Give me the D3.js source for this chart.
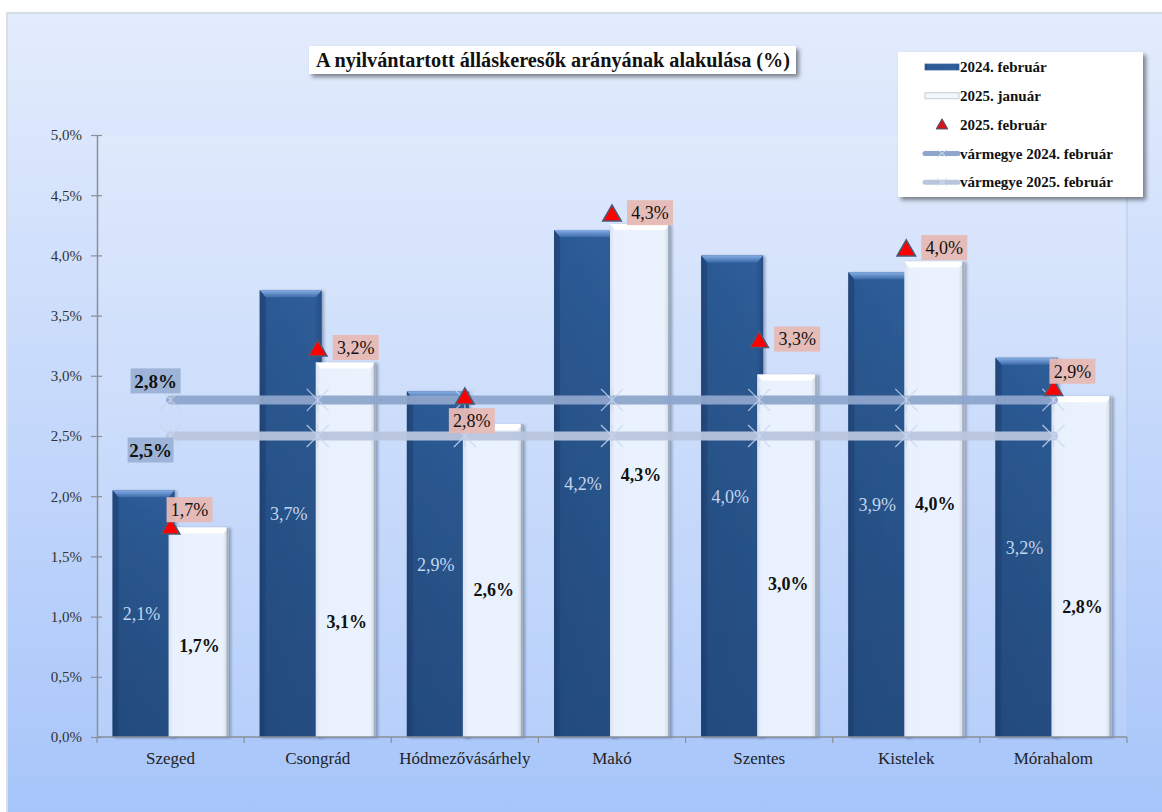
<!DOCTYPE html>
<html><head><meta charset="utf-8">
<script src="https://cdn.jsdelivr.net/npm/d3@7"></script>
<style>
html,body{margin:0;padding:0;background:#fff;}
svg{display:block;}
text{font-family:"Liberation Serif","DejaVu Serif",serif;}
</style></head>
<body>
<svg id="c" width="1162" height="812"></svg>
<script>
// ---- data ----
const categories = ["Szeged","Csongrád","Hódmezővásárhely","Makó","Szentes","Kistelek","Mórahalom"];
const feb2024 = [2.05, 3.71, 2.87, 4.21, 4.00, 3.86, 3.15];
const feb2024Labels = ["2,1%","3,7%","2,9%","4,2%","4,0%","3,9%","3,2%"];
const jan2025 = [1.74, 3.11, 2.60, 4.26, 3.01, 3.95, 2.83];
const jan2025Labels = ["1,7%","3,1%","2,6%","4,3%","3,0%","4,0%","2,8%"];
const feb2025 = [1.73, 3.21, 2.81, 4.33, 3.28, 4.04, 2.88];
const feb2025Labels = ["1,7%","3,2%","2,8%","4,3%","3,3%","4,0%","2,9%"];
const county2024 = 2.8, county2024Label = "2,8%";
const county2025 = 2.5, county2025Label = "2,5%";
const yTicks = [0,0.5,1,1.5,2,2.5,3,3.5,4,4.5,5];
const yTickLabels = ["0,0%","0,5%","1,0%","1,5%","2,0%","2,5%","3,0%","3,5%","4,0%","4,5%","5,0%"];
const title = "A nyilvántartott álláskeresők arányának alakulása (%)";
const legendLabels = ["2024. február","2025. január","2025. február","vármegye 2024. február","vármegye 2025. február"];

// ---- layout (not data) ----
const janLabelAt = [0.76, 0.96, 1.22, 2.18, 1.27, 1.94, 1.08];   // where bold labels sit, in axis units
const febLabelPlace = ["above","right","below","right","right","right","above"];
const SERIF = "'Liberation Serif','DejaVu Serif',serif";

const svg = d3.select("#c");
const defs = svg.append("defs");

const bg = defs.append("linearGradient").attr("id","bg").attr("x1",0).attr("y1",0).attr("x2",0).attr("y2",1);
bg.append("stop").attr("offset","0%").attr("stop-color","#e3ecfc");
bg.append("stop").attr("offset","100%").attr("stop-color","#a7c5fa");
const dk = defs.append("linearGradient").attr("id","dk").attr("x1",0).attr("y1",0).attr("x2",1).attr("y2",0);
dk.append("stop").attr("offset","0%").attr("stop-color","#24497d");
dk.append("stop").attr("offset","12%").attr("stop-color","#2c5a95");
dk.append("stop").attr("offset","88%").attr("stop-color","#2e5d99");
dk.append("stop").attr("offset","100%").attr("stop-color","#264e86");
const dkv = defs.append("linearGradient").attr("id","dkv").attr("x1",0).attr("y1",0).attr("x2",0).attr("y2",1);
dkv.append("stop").attr("offset","0%").attr("stop-color","#000").attr("stop-opacity",0);
dkv.append("stop").attr("offset","100%").attr("stop-color","#0a1e3c").attr("stop-opacity",0.25);
const wt = defs.append("linearGradient").attr("id","wt").attr("x1",0).attr("y1",0).attr("x2",1).attr("y2",0);
wt.append("stop").attr("offset","0%").attr("stop-color","#d9e3ef");
wt.append("stop").attr("offset","8%").attr("stop-color","#e8f1fd");
wt.append("stop").attr("offset","90%").attr("stop-color","#eaf2fd");
wt.append("stop").attr("offset","100%").attr("stop-color","#c9d3df");
const hl = defs.append("linearGradient").attr("id","hl").attr("x1",0).attr("y1",0).attr("x2",0).attr("y2",1);
hl.append("stop").attr("offset","0%").attr("stop-color","#86aee4");
hl.append("stop").attr("offset","100%").attr("stop-color","#3d6cab");
const sh = defs.append("filter").attr("id","sh").attr("x","-10%").attr("y","-20%").attr("width","130%").attr("height","160%");
sh.append("feDropShadow").attr("dx",3).attr("dy",3).attr("stdDeviation",2).attr("flood-color","#000").attr("flood-opacity",0.45);
const bsh = defs.append("filter").attr("id","bsh").attr("x","-20%").attr("y","-5%").attr("width","150%").attr("height","110%");
bsh.append("feDropShadow").attr("dx",2).attr("dy",1).attr("stdDeviation",1.5).attr("flood-color","#0a1e3c").attr("flood-opacity",0.35);

// outer frame
svg.append("rect").attr("x",6).attr("y",12).attr("width",1160).attr("height",805).attr("fill","#d8dde6");
svg.append("rect").attr("x",8).attr("y",14).attr("width",1160).attr("height",805).attr("fill","url(#bg)");

// scales
const x = d3.scaleBand().domain(categories).range([97,1127]).padding(0);
const y = d3.scaleLinear().domain([0,5]).range([737,135]);
const barW = 58;
const cx = c => x(c) + x.bandwidth()/2;

// plot area
svg.append("rect").attr("x",97).attr("y",y(5)).attr("width",1030).attr("height",y(0)-y(5))
  .attr("fill","#ffffff").attr("fill-opacity",0.13);
svg.append("line").attr("x1",1127).attr("x2",1127).attr("y1",y(5)).attr("y2",y(0)).attr("stroke","#b6c8e6").attr("stroke-width",1);

// y axis
const yAxis = d3.axisLeft(y).tickValues(yTicks).tickFormat((d,i)=>yTickLabels[i]).tickSizeInner(6).tickSizeOuter(0).tickPadding(9);
const ya = svg.append("g").attr("transform","translate(97,0)").call(yAxis).attr("font-family",SERIF);
ya.select(".domain").attr("stroke","#8a8f98").attr("stroke-width",1.5);
ya.selectAll(".tick line").attr("stroke","#8a8f98").attr("stroke-width",1.2).attr("x2",-6).attr("x1",5);
ya.selectAll(".tick text").attr("font-size",15).attr("fill","#333");

// bars
const g = svg.append("g");
categories.forEach((c,i)=>{
  const x0 = cx(c) - barW;
  const w0 = barW + 4;
  const yt = y(feb2024[i]);
  const bg1 = g.append("g").attr("filter","url(#bsh)");
  bg1.append("rect").attr("x",x0).attr("y",yt).attr("width",w0).attr("height",y(0)-yt).attr("fill","url(#dk)");
  bg1.append("rect").attr("x",x0).attr("y",yt).attr("width",w0).attr("height",y(0)-yt).attr("fill","url(#dkv)");
  bg1.append("path").attr("d",`M${x0},${yt}L${x0+w0},${yt}L${x0+w0-6},${yt+7}L${x0+6},${yt+7}Z`).attr("fill","url(#hl)");
  bg1.append("path").attr("d",`M${x0},${yt}L${x0+6},${yt+7}L${x0+6},${y(0)}L${x0},${y(0)}Z`).attr("fill","#1f4275").attr("opacity",0.55);
  const x1 = cx(c) - 2;
  const yw = y(jan2025[i]);
  const bg2 = g.append("g").attr("filter","url(#bsh)");
  bg2.append("rect").attr("x",x1).attr("y",yw).attr("width",barW+2).attr("height",y(0)-yw).attr("fill","url(#wt)");
  bg2.append("path").attr("d",`M${x1},${yw}L${x1+barW+2},${yw}L${x1+barW-3},${yw+6}L${x1+5},${yw+6}Z`).attr("fill","#ffffff");
  bg2.append("rect").attr("x",x1+barW).attr("y",yw).attr("width",2).attr("height",y(0)-yw).attr("fill","#a4adb8");
});

// x axis
const xa = svg.append("g").attr("transform",`translate(0,${y(0)})`);
xa.append("line").attr("x1",97).attr("x2",1127).attr("stroke","#8a8f98").attr("stroke-width",1.5);
categories.concat(["__end"]).forEach((c,i)=>{
  const xx = i < categories.length ? x(c) : 1127;
  xa.append("line").attr("x1",xx).attr("x2",xx).attr("y1",0).attr("y2",6).attr("stroke","#8a8f98").attr("stroke-width",1.2);
});
categories.forEach(c=>{
  xa.append("text").attr("x",cx(c)).attr("y",27).attr("text-anchor","middle").attr("font-size",17).attr("fill","#222").text(c);
});

// bar labels
categories.forEach((c,i)=>{
  g.append("text").attr("x",cx(c)-barW/2).attr("y",(y(feb2024[i])+y(0))/2).attr("dy","0.35em")
   .attr("text-anchor","middle").attr("font-size",18).attr("fill","#c3d5f0").text(feb2024Labels[i]);
  g.append("text").attr("x",cx(c)+barW/2).attr("y",y(janLabelAt[i])).attr("dy","0.35em")
   .attr("text-anchor","middle").attr("font-size",18).attr("font-weight","bold").attr("fill","#111").text(jan2025Labels[i]);
});

// county lines
const line = d3.line().x(d=>d[0]).y(d=>d[1]);
const cats0 = cx(categories[0]), cats1 = cx(categories[categories.length-1]);
function countyLine(v,color){
  svg.append("path").attr("d",line([[cats0,y(v)],[cats1,y(v)]])).attr("stroke",color).attr("stroke-width",9)
    .attr("stroke-linecap","round").attr("fill","none").attr("opacity",0.95);
  categories.forEach(c=>{
    const px = cx(c), py = y(v);
    const m = svg.append("g").attr("stroke","#c9d6ee").attr("stroke-width",1.2).attr("opacity",0.85);
    m.append("line").attr("x1",px-11).attr("y1",py-11).attr("x2",px+11).attr("y2",py+11);
    m.append("line").attr("x1",px-11).attr("y1",py+11).attr("x2",px+11).attr("y2",py-11);
    m.append("line").attr("x1",px).attr("y1",py-11).attr("x2",px).attr("y2",py+11);
  });
}
countyLine(county2024,"#8ea5cc");
countyLine(county2025,"#b8c5dd");

// county labels
function labelBox(tx,ty,w,h,txt,fill,bold){
  svg.append("rect").attr("x",tx-w/2).attr("y",ty-h/2).attr("width",w).attr("height",h).attr("fill",fill);
  svg.append("text").attr("x",tx).attr("y",ty).attr("dy","0.35em").attr("text-anchor","middle").attr("font-size",19)
    .attr("font-weight",bold?"bold":"normal").attr("fill","#111").text(txt);
}
labelBox(cats0-15, y(county2024)-19, 50, 25, county2024Label, "#9db4d8", true);
labelBox(cats0-20, y(county2025)+14, 46, 25, county2025Label, "#9db4d8", true);

// triangles + labels
const tri = d3.symbol().type(d3.symbolTriangle).size(150);
categories.forEach((c,i)=>{
  const px = cx(c), py = y(feb2025[i]);
  svg.append("path").attr("d",tri()).attr("transform",`translate(${px},${py})`)
    .attr("fill","#ff0000").attr("stroke","#4a5a7a").attr("stroke-width",1.5);
  let lx, ly;
  if (febLabelPlace[i]==="right"){ lx = px+38; ly = py-3; }
  else if (febLabelPlace[i]==="above"){ lx = px+19; ly = py-19; }
  else { lx = px+7; ly = py+22; }
  svg.append("rect").attr("x",lx-23).attr("y",ly-12.5).attr("width",46).attr("height",25).attr("fill","#e7b9b5").attr("opacity",0.95);
  svg.append("text").attr("x",lx).attr("y",ly).attr("dy","0.35em").attr("text-anchor","middle").attr("font-size",18)
    .attr("fill","#111").text(feb2025Labels[i]);
});

// title
const tg = svg.append("g");
tg.append("rect").attr("x",309).attr("y",46).attr("width",487).attr("height",28).attr("fill","#fff").attr("filter","url(#sh)");
tg.append("text").attr("x",553).attr("y",60).attr("dy","0.35em").attr("text-anchor","middle").attr("font-size",20)
  .attr("font-weight","bold").attr("fill","#111").attr("textLength",474).attr("lengthAdjust","spacingAndGlyphs").text(title);

// legend
const lg = svg.append("g");
lg.append("rect").attr("x",898).attr("y",52).attr("width",245).attr("height",145).attr("fill","#fff").attr("filter","url(#sh)");
const ly0 = 67, ldy = 28.8;
legendLabels.forEach((t,i)=>{
  const yy = ly0 + i*ldy;
  lg.append("text").attr("x",960).attr("y",yy).attr("dy","0.35em").attr("font-size",15).attr("font-weight","bold").attr("fill","#111").text(t);
});
lg.append("rect").attr("x",925).attr("y",ly0-3).attr("width",34).attr("height",6).attr("fill","url(#dk)").attr("stroke","#3b6aa6").attr("stroke-width",0.8);
lg.append("rect").attr("x",925).attr("y",ly0+ldy-3).attr("width",34).attr("height",6).attr("fill","#f3f6fa").attr("stroke","#b8c0ca").attr("stroke-width",0.8);
lg.append("path").attr("d",d3.symbol().type(d3.symbolTriangle).size(60)()).attr("transform",`translate(942,${ly0+2*ldy+1})`)
  .attr("fill","#d01818").attr("stroke","#4a5a7a").attr("stroke-width",1);
[["#8ea5cc",3],["#b8c5dd",4]].forEach(([col,k])=>{
  const yy = ly0 + k*ldy;
  lg.append("line").attr("x1",925).attr("x2",958).attr("y1",yy).attr("y2",yy).attr("stroke",col).attr("stroke-width",5).attr("stroke-linecap","round");
  lg.append("line").attr("x1",937).attr("x2",947).attr("y1",yy-4).attr("y2",yy+4).attr("stroke","#d5deef").attr("stroke-width",1);
  lg.append("line").attr("x1",937).attr("x2",947).attr("y1",yy+4).attr("y2",yy-4).attr("stroke","#d5deef").attr("stroke-width",1);
});
</script>
</body></html>
